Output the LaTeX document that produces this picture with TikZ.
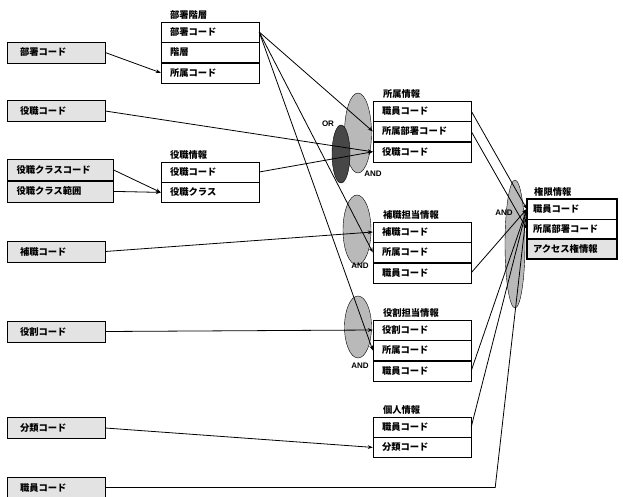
\documentclass[tikz,border=0pt]{standalone}
\usepackage{fontspec}
\newfontfamily\jpfont{Noto Sans CJK JP}
\newfontfamily\lblfont{Liberation Sans}
\usepackage{tikz}
\usetikzlibrary{arrows.meta,positioning,shapes.geometric,calc,fit}

\begin{document}
\begin{tikzpicture}[x=1pt, y=-1pt,
    srcbox/.style={draw, fill=gray!22, minimum width=98pt, minimum height=21pt, inner sep=0pt, text width=72pt, align=left, font=\jpfont\bfseries\fontsize{9.3}{10}\selectfont},
    tbrow/.style={draw, fill=white, minimum width=98pt, minimum height=20pt, inner sep=0pt, text width=80pt, align=left, font=\jpfont\bfseries\fontsize{9.3}{10}\selectfont},
    tbtitle/.style={inner sep=1pt, font=\jpfont\bfseries\fontsize{9.3}{10}\selectfont},
    andshape/.style={ellipse, draw, fill=gray!55, inner sep=0pt},
    orshape/.style={ellipse, draw, fill=black!72, inner sep=0pt},
    oplabel/.style={font=\lblfont\bfseries\fontsize{8}{9}\selectfont, inner sep=0pt},
    arrow/.style={-{Stealth[length=5pt]}, line width=0.8pt},
    link/.style={line width=0.8pt}
]
\useasboundingbox (0,0) rectangle (623,497);

% AND / OR ellipses
\node[andshape, minimum width=27pt, minimum height=80pt] (eSz) at (358,133) {};
\node[orshape, minimum width=18pt, minimum height=58pt] (eOr) at (341,154) {};
\node[andshape, minimum width=28pt, minimum height=70pt] (eHt) at (357,230) {};
\node[andshape, minimum width=27pt, minimum height=62pt] (eYw) at (358,327) {};
\node[andshape, minimum width=20pt, minimum height=128pt] (eKg) at (515,244) {};

\node[oplabel] (lOr) at (328,124) {OR};
\node[oplabel] (lSz) at (373,174) {AND};
\node[oplabel] (lHt) at (360,266) {AND};
\node[oplabel] (lYw) at (360,366) {AND};
\node[oplabel] (lKg) at (504,213) {AND};

% Source codes
\node[srcbox] (sBusho) at (56,52.5) {部署コード};
\node[srcbox] (sYaku) at (56,111) {役職コード};
\node[srcbox, minimum width=106pt, text width=88pt] (sYkCode) at (60.5,170) {役職クラスコード};
\node[srcbox, minimum width=106pt, text width=88pt, below=0pt of sYkCode] (sYkRange) {役職クラス範囲};
\node[srcbox] (sHosho) at (56,251.5) {補職コード};
\node[srcbox] (sYakuwari) at (56,331.5) {役割コード};
\node[srcbox] (sBunrui) at (56,428) {分類コード};
\node[srcbox] (sShokuin) at (56,487.5) {職員コード};

% Tables
\node[tbrow] (bk1) at (210,32) {部署コード};
\node[tbrow, below=0pt of bk1] (bk2) {階層};
\node[tbrow, below=0pt of bk2] (bk3) {所属コード};
\node[tbtitle, above right=1pt and 8pt of bk1.north west] (bkT) {部署階層};

\node[tbrow] (yj1) at (210,172) {役職コード};
\node[tbrow, below=0pt of yj1] (yj2) {役職クラス};
\node[tbtitle, above right=1pt and 8pt of yj1.north west] (yjT) {役職情報};

\node[tbrow] (sz1) at (422,111) {職員コード};
\node[tbrow, below=0pt of sz1] (sz2) {所属部署コード};
\node[tbrow, below=0pt of sz2] (sz3) {役職コード};
\node[tbtitle, above right=1pt and 9pt of sz1.north west] (szT) {所属情報};

\node[tbrow] (ht1) at (422,232) {補職コード};
\node[tbrow, below=0pt of ht1] (ht2) {所属コード};
\node[tbrow, below=0pt of ht2] (ht3) {職員コード};
\node[tbtitle, above right=1pt and 9pt of ht1.north west] (htT) {補職担当情報};

\node[tbrow] (yw1) at (422,330) {役割コード};
\node[tbrow, below=0pt of yw1] (yw2) {所属コード};
\node[tbrow, below=0pt of yw2] (yw3) {職員コード};
\node[tbtitle, above right=1pt and 9pt of yw1.north west] (ywT) {役割担当情報};

\node[tbrow] (kj1) at (422,427) {職員コード};
\node[tbrow, below=0pt of kj1] (kj2) {分類コード};
\node[tbtitle, above right=1pt and 9pt of kj1.north west] (kjT) {個人情報};

\node[tbrow, minimum width=90pt, text width=78pt, minimum height=19.5pt] (kg1) at (572,209) {職員コード};
\node[tbrow, minimum width=90pt, text width=78pt, minimum height=19.5pt, below=0pt of kg1] (kg2) {所属部署コード};
\node[tbrow, minimum width=90pt, text width=78pt, minimum height=19.5pt, fill=gray!22, below=0pt of kg2] (kg3) {アクセス権情報};
\node[draw, line width=1.6pt, inner sep=0pt, fit=(kg1)(kg3)] (kgBox) {};
\node[tbtitle, above right=1pt and 7pt of kgBox.north west] (kgT) {権限情報};

% Arrows
\draw[arrow] (sBusho.east) -- (bk3.west);
\draw[arrow] (sYkCode.east) -- (yj2.west);
\draw[arrow] (sYkRange.east) -- (yj2.west);
\draw[arrow] (sYaku.east) -- (sz3.west);
\draw[arrow] (yj1.east) -- (sz3.west);
\draw[arrow] (bk1.east) -- (sz2.west);
\draw[arrow] (bk1.east) -- (ht2.west);
\draw[arrow] (bk1.east) -- (yw2.west);
\draw[arrow] (sHosho.east) -- (ht1.west);
\draw[arrow] (sYakuwari.east) -- (yw1.west);
\draw[arrow] (sBunrui.east) -- (kj2.west);

% Into 権限情報
\coordinate (sBend) at ($(sShokuin.east -| kj1.east)+(24,0)$);
\draw[arrow] (sz1.east) -- (kg1.west);
\draw[arrow] (sz2.east) -- (kg2.west);
\draw[arrow] (ht3.east) -- (kg1.west);
\draw[arrow] (yw3.east) -- (kg1.west);
\draw[arrow] (kj1.east) -- (kg1.west);
\draw[arrow] (sShokuin.east) -- (sBend) -- (kg1.west);
\end{tikzpicture}
\end{document}
